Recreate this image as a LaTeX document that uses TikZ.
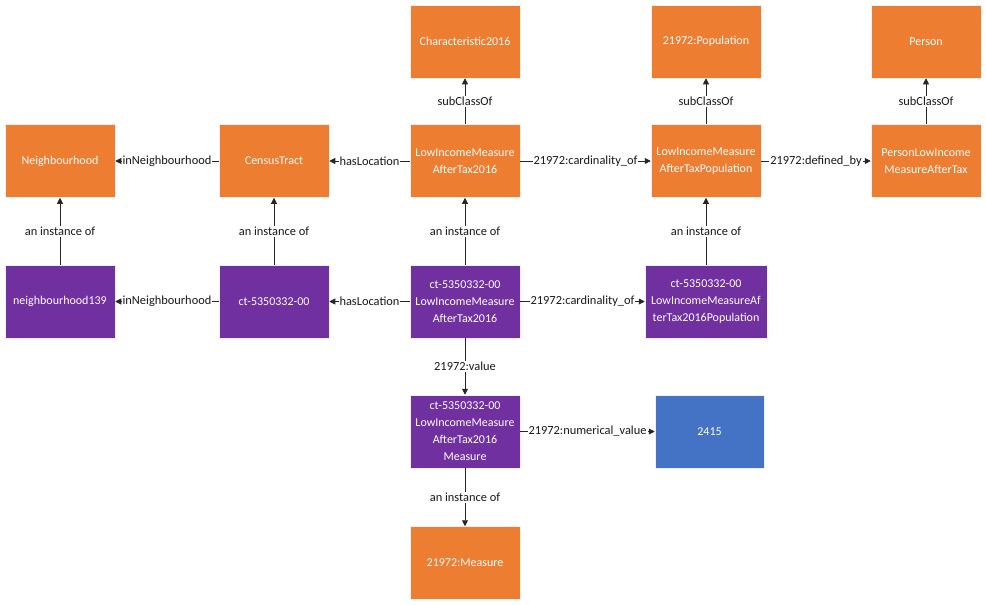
\documentclass[tikz,border=0pt]{standalone}
\usepackage{fontspec}
\setmainfont{Carlito}
\usetikzlibrary{arrows.meta}
\definecolor{cOrange}{HTML}{ED7D31}
\definecolor{cPurple}{HTML}{7030A0}
\definecolor{cBlue}{HTML}{4472C4}
\begin{document}
\begin{tikzpicture}[x=1pt,y=-1pt,
  box/.style={minimum width=110pt,minimum height=73pt,inner sep=2pt,align=center,text=white,font=\fontsize{12}{17}\selectfont,draw=white!70!black!20,line width=0.5pt},
  cls/.style={box,fill=cOrange},
  inst/.style={box,fill=cPurple},
  val/.style={box,fill=cBlue},
  rel/.style={draw=black!85,line width=0.9pt,-{Triangle[length=6pt,width=6pt]}},
  lab/.style={fill=white,inner sep=1pt,font=\fontsize{12.4}{15}\selectfont,text=black!90}]
\useasboundingbox (0,0) rectangle (986,605);
% row 1
\node[cls] (char) at (465,41.5) {Characteristic2016};
\node[cls] (pop) at (706,41.5) {21972:Population};
\node[cls] (person) at (926,41.5) {Person};
% row 2
\node[cls] (nbh) at (60,161) {Neighbourhood};
\node[cls] (ctr) at (274,161) {CensusTract};
\node[cls] (lim) at (465,161) {LowIncomeMeasure\\AfterTax2016};
\node[cls] (limpop) at (706,161) {LowIncomeMeasure\\AfterTaxPopulation};
\node[cls] (plim) at (926,161) {PersonLowIncome\\MeasureAfterTax};
% row 3
\node[inst] (n139) at (60,301.5) {neighbourhood139};
\node[inst] (ct) at (274,301.5) {ct-5350332-00};
\node[inst] (ctlim) at (465,301.5) {ct-5350332-00\\LowIncomeMeasure\\AfterTax2016};
\node[inst,minimum width=122pt] (ctpop) at (706,301.5) {ct-5350332-00\\LowIncomeMeasureAf\\terTax2016Population};
% row 4
\node[inst] (meas) at (465,431.5) {ct-5350332-00\\LowIncomeMeasure\\AfterTax2016\\Measure};
\node[val,minimum width=109pt] (v) at (709.5,431.5) {2415};
% row 5
\node[cls] (m) at (465,563) {21972:Measure};
% connectors
\draw[rel] (lim) -- node[lab]{subClassOf} (char);
\draw[rel] (limpop) -- node[lab]{subClassOf} (pop);
\draw[rel] (plim) -- node[lab]{subClassOf} (person);
\draw[rel] (ctr) -- node[lab]{inNeighbourhood} (nbh);
\draw[rel] (lim) -- node[lab]{hasLocation} (ctr);
\draw[rel] (lim) -- node[lab]{21972:cardinality\_of} (limpop);
\draw[rel] (limpop) -- node[lab]{21972:defined\_by} (plim);
\draw[rel] (n139) -- node[lab]{an instance of} (nbh);
\draw[rel] (ct) -- node[lab]{an instance of} (ctr);
\draw[rel] (ctlim) -- node[lab]{an instance of} (lim);
\draw[rel] (ctpop) -- node[lab]{an instance of} (limpop);
\draw[rel] (ct) -- node[lab]{inNeighbourhood} (n139);
\draw[rel] (ctlim) -- node[lab]{hasLocation} (ct);
\draw[rel] (ctlim) -- node[lab]{21972:cardinality\_of} (ctpop);
\draw[rel] (ctlim) -- node[lab]{21972:value} (meas);
\draw[rel] (meas) -- node[lab]{21972:numerical\_value} (v);
\draw[rel] (meas) -- node[lab]{an instance of} (m);
\end{tikzpicture}
\end{document}
